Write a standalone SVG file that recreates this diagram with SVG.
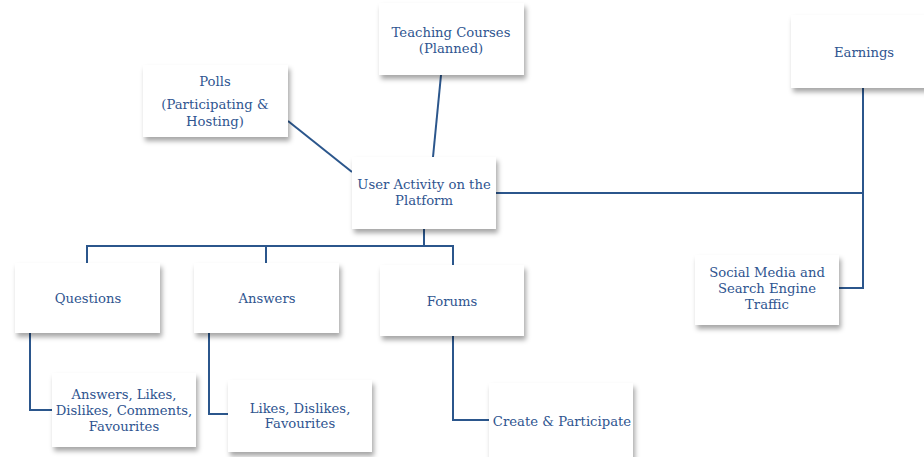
<svg xmlns="http://www.w3.org/2000/svg" width="924" height="457" viewBox="0 0 924 457">
<defs>
<filter id="sh" x="-10%" y="-10%" width="125%" height="135%">
<feDropShadow dx="2" dy="4" stdDeviation="2.5" flood-color="#000" flood-opacity="0.35"/>
</filter>
<style>
.box{fill:#fff;filter:url(#sh)}
.t{font-family:"DejaVu Serif","Liberation Serif",serif;font-size:13.2px;fill:#2f5590;text-anchor:middle}
.c{stroke:#2b568c;stroke-width:2;fill:none}
</style>
</defs>
<rect width="924" height="457" fill="#fff"/>
<g id="connectors">
<line class="c" x1="288" y1="121" x2="352" y2="172"/>
<line class="c" x1="441" y1="75" x2="433" y2="157"/>
<polyline class="c" points="496,193 863,193"/>
<polyline class="c" points="863,88 863,288 839,288"/>
<polyline class="c" points="424,229 424,246"/>
<polyline class="c" points="87,263 87,246 453,246 453,265"/>
<polyline class="c" points="266,246 266,263"/>
<polyline class="c" points="30,333 30,410 52,410"/>
<polyline class="c" points="209,333 209,414 228,414"/>
<polyline class="c" points="453,336 453,420 489,420"/>
</g>
<g id="polls"><rect class="box" x="143" y="65" width="145" height="72"/>
<text class="t" x="215" y="86">Polls</text><text class="t" x="215" y="109">(Participating &amp;</text><text class="t" x="215" y="126">Hosting)</text></g>
<g id="teaching"><rect class="box" x="379" y="3" width="145" height="72"/>
<text class="t" x="451" y="37">Teaching Courses</text><text class="t" x="451" y="53">(Planned)</text></g>
<g id="earnings"><rect class="box" x="791" y="15" width="140" height="73"/>
<text class="t" x="864" y="57">Earnings</text></g>
<g id="user"><rect class="box" x="352" y="157" width="144" height="72"/>
<text class="t" x="424" y="189">User Activity on the</text><text class="t" x="424" y="205">Platform</text></g>
<g id="questions"><rect class="box" x="15" y="263" width="145" height="70"/>
<text class="t" x="88" y="303">Questions</text></g>
<g id="answers"><rect class="box" x="194" y="263" width="145" height="70"/>
<text class="t" x="267" y="303">Answers</text></g>
<g id="forums"><rect class="box" x="380" y="265" width="144" height="71"/>
<text class="t" x="452" y="306">Forums</text></g>
<g id="social"><rect class="box" x="695" y="255" width="144" height="70"/>
<text class="t" x="767" y="277">Social Media and</text><text class="t" x="767" y="293">Search Engine</text><text class="t" x="767" y="309">Traffic</text></g>
<g id="qsub"><rect class="box" x="52" y="373" width="144" height="74"/>
<text class="t" x="124" y="399">Answers, Likes,</text><text class="t" x="124" y="415">Dislikes, Comments,</text><text class="t" x="124" y="431">Favourites</text></g>
<g id="asub"><rect class="box" x="228" y="380" width="144" height="72"/>
<text class="t" x="300" y="413">Likes, Dislikes,</text><text class="t" x="300" y="428">Favourites</text></g>
<g id="fsub"><rect class="box" x="489" y="383" width="144" height="80"/>
<text class="t" x="562" y="426">Create &amp; Participate</text></g>
</svg>
